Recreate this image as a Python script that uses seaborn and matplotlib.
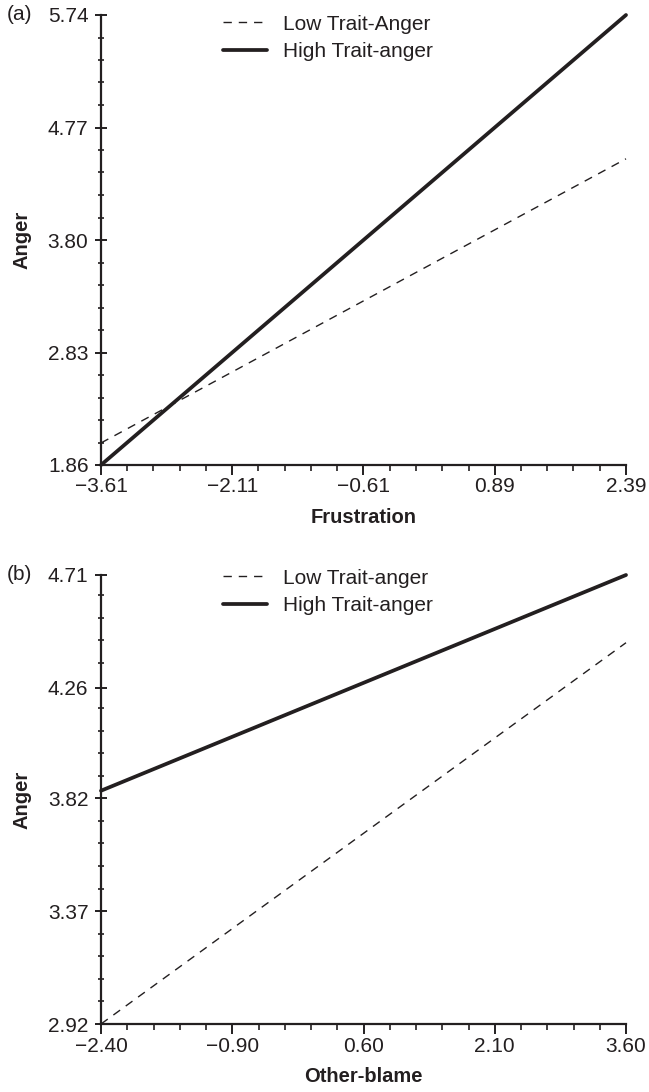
import numpy as np
import pandas as pd
import matplotlib
matplotlib.use("Agg")
import matplotlib.pyplot as plt
import seaborn as sns
from matplotlib.ticker import FixedLocator, FixedFormatter

# Panel (a): anger vs frustration
frus_x = [-3.61, 2.39]
frus_low = [2.05, 4.50]
frus_high = [1.86, 5.74]
frus_xticks = [-3.61, -2.11, -0.61, 0.89, 2.39]
frus_xlabels = ["\u22123.61", "\u22122.11", "\u22120.61", "0.89", "2.39"]
frus_yticks = [1.86, 2.83, 3.80, 4.77, 5.74]
frus_ylabels = ["1.86", "2.83", "3.80", "4.77", "5.74"]

# Panel (b): anger vs other-blame
blame_x = [-2.40, 3.60]
blame_low = [2.92, 4.44]
blame_high = [3.85, 4.71]
blame_xticks = [-2.40, -0.90, 0.60, 2.10, 3.60]
blame_xlabels = ["\u22122.40", "\u22120.90", "0.60", "2.10", "3.60"]
blame_yticks = [2.92, 3.37, 3.82, 4.26, 4.71]
blame_ylabels = ["2.92", "3.37", "3.82", "4.26", "4.71"]

sns.set_theme(style="ticks")
plt.rcParams["font.family"] = ["Liberation Sans", "DejaVu Sans"]

ink = "#231f20"
fs = 15


def make_frame(x, low, high, low_name, high_name):
    rows = []
    for xi, yi in zip(x, low):
        rows.append({"x": xi, "y": yi, "group": low_name})
    for xi, yi in zip(x, high):
        rows.append({"x": xi, "y": yi, "group": high_name})
    return pd.DataFrame(rows)


def draw_panel(ax, df, low_name, high_name, xticks, xlabels, yticks, ylabels,
               xlabel, tag, leg_y):
    sns.lineplot(data=df[df["group"] == low_name], x="x", y="y", ax=ax,
                 color=ink, linewidth=1.0, linestyle=(0, (6, 5)), label=low_name)
    sns.lineplot(data=df[df["group"] == high_name], x="x", y="y", ax=ax,
                 color=ink, linewidth=2.7, label=high_name)

    ax.set_xlim(xticks[0], xticks[-1])
    ax.set_ylim(yticks[0], yticks[-1])
    ax.xaxis.set_major_locator(FixedLocator(xticks))
    ax.xaxis.set_major_formatter(FixedFormatter(xlabels))
    ax.yaxis.set_major_locator(FixedLocator(yticks))
    ax.yaxis.set_major_formatter(FixedFormatter(ylabels))

    xstep = (xticks[1] - xticks[0]) / 5
    ystep = (yticks[1] - yticks[0]) / 5
    ax.xaxis.set_minor_locator(FixedLocator(
        [xticks[0] + i * xstep for i in range(21) if i % 5 != 0]))
    ax.yaxis.set_minor_locator(FixedLocator(
        [yticks[0] + i * ystep for i in range(21) if i % 5 != 0]))

    for side in ["top", "right"]:
        ax.spines[side].set_visible(False)
    for side in ["left", "bottom"]:
        ax.spines[side].set_color(ink)
        ax.spines[side].set_linewidth(1.6)

    ax.tick_params(axis="x", which="both", bottom=True, top=False)
    ax.tick_params(axis="y", which="both", left=True, right=False)
    ax.tick_params(axis="x", which="major", direction="out", length=7, width=1.4,
                   labelsize=fs, colors=ink, pad=2)
    ax.tick_params(axis="x", which="minor", direction="out", length=4, width=1.2,
                   colors=ink)
    ax.tick_params(axis="y", which="major", direction="inout", length=8, width=1.4,
                   labelsize=fs, colors=ink, pad=5)
    ax.tick_params(axis="y", which="minor", direction="inout", length=5, width=1.2,
                   colors=ink)

    ax.set_xlabel(xlabel, fontsize=14.5, fontweight="bold", color=ink, labelpad=8)
    ax.set_ylabel("Anger", fontsize=14.5, fontweight="bold", color=ink)
    ax.yaxis.set_label_coords(-0.133, 0.5)
    ax.text(-0.18, 1.0, tag, transform=ax.transAxes, fontsize=fs,
            color=ink, ha="left", va="center")

    leg = ax.legend(loc="upper left", bbox_to_anchor=(0.232, leg_y), frameon=False,
                    fontsize=fs, handlelength=2.1, handletextpad=0.8,
                    labelspacing=0.4, borderaxespad=0, borderpad=0)
    for t in leg.get_texts():
        t.set_color(ink)


fig = plt.figure(figsize=(6.49, 10.92), dpi=100)
ax_a = fig.add_axes([101 / 649, 1 - 465 / 1092, 525 / 649, 450 / 1092])
ax_b = fig.add_axes([101 / 649, 1 - 1024 / 1092, 525 / 649, 449 / 1092])

df_a = make_frame(frus_x, frus_low, frus_high, "Low Trait-Anger", "High Trait-anger")
df_b = make_frame(blame_x, blame_low, blame_high, "Low Trait-anger", "High Trait-anger")

draw_panel(ax_a, df_a, "Low Trait-Anger", "High Trait-anger",
           frus_xticks, frus_xlabels, frus_yticks, frus_ylabels, "Frustration", "(a)", 1.001)
draw_panel(ax_b, df_b, "Low Trait-anger", "High Trait-anger",
           blame_xticks, blame_xlabels, blame_yticks, blame_ylabels, "Other-blame", "(b)", 1.014)

for ax in (ax_a, ax_b):
    for line in ax.get_lines():
        line.set_clip_on(False)

fig.savefig("out.png", dpi=100)
